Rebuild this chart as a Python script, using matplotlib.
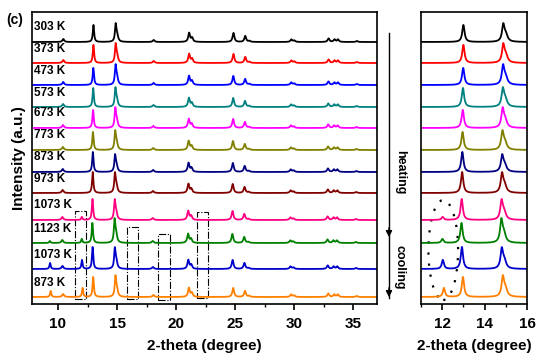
import numpy as np
import matplotlib
matplotlib.use("Agg")
import matplotlib.pyplot as plt
from matplotlib.patches import Rectangle, Ellipse

plt.rcParams['font.family'] = ['Liberation Sans', 'DejaVu Sans']
plt.rcParams['font.weight'] = 'bold'

# temperatures, top to bottom (heating, then cooling)
temps = ['303 K', '373 K', '473 K', '573 K', '673 K', '773 K', '873 K', '973 K',
         '1073 K', '1123 K', '1073 K', '873 K']
colors = ['#000000', '#ff0000', '#0000ff', '#008080', '#ff00ff', '#808000',
          '#000080', '#800000', '#ff0080', '#008000', '#0000cc', '#ff8000']
offsets = [262, 241, 219, 197, 176, 154, 132, 111, 84, 61, 35, 7]

# peak heights (a.u.)
h_13 = [17, 18, 17, 19, 18, 18, 20, 21, 21, 20, 22, 20]
h_149 = [19, 20, 21, 20, 21, 20, 18, 21, 21, 25, 22, 22]
h_121 = [0, 0, 0, 0, 0, 0, 0, 0, 3, 4, 9, 9]
h_94 = [0, 0, 0, 0, 0, 0, 0, 0, 0, 2, 6, 6]
shift = [0, 0, -0.01, -0.02, -0.03, -0.04, -0.05, -0.06, -0.08, -0.09, -0.07, -0.02]

# weaker reflections common to all patterns
minor_pos = [10.45, 18.1, 21.1, 21.35, 24.85, 25.85, 26.2, 29.75, 30.0, 32.9, 33.4, 33.7, 35.3]
minor_h = [3, 2, 9, 4, 9, 6, 1, 2.5, 1.5, 3.5, 2.5, 2.5, 1]


def lor(x, c, h, w=0.06):
    return h * w**2 / ((x - c)**2 + w**2)


def pattern(x, i):
    s = shift[i]
    y = lor(x, 13.0 + s, h_13[i], 0.065)
    y += lor(x, 14.88 + s, 0.85 * h_149[i], 0.07) + lor(x, 15.0 + s, 0.35 * h_149[i], 0.1)
    y += lor(x, 12.1 + s, h_121[i], 0.06) + lor(x, 9.4 + s, h_94[i], 0.06)
    for p, h in zip(minor_pos, minor_h):
        y += lor(x, p + s, h, 0.09)
    return y


fig = plt.figure(figsize=(5.5, 3.63), dpi=100)
ax1 = fig.add_axes([32/550, 1-304/363, 345/550, 292/363])
ax2 = fig.add_axes([421/550, 1-304/363, 106/550, 292/363])

x1 = np.linspace(7.8, 37, 4000)
x2 = np.linspace(11, 16, 1500)
for i in range(len(temps)):
    ax1.plot(x1, pattern(x1, i) + offsets[i], color=colors[i], lw=1.3)
    ax2.plot(x2, pattern(x2, i) + offsets[i], color=colors[i], lw=1.3)
    ax1.text(8.0, offsets[i] + 14.5, temps[i], fontsize=8.5, fontweight='bold',
             ha='left', va='center')

# dash-dot boxes
for (xa, xb, ya, yb) in [(11.4, 12.35, 5, 93), (15.85, 16.8, 5, 77),
                         (18.5, 19.5, 4, 70), (21.8, 22.7, 6, 92)]:
    ax1.add_patch(Rectangle((xa, ya), xb - xa, yb - ya, fill=False,
                            ls='-.', lw=0.8, color='k'))
ax2.add_patch(Ellipse((12.05, 54), 1.4, 100, fill=False, color='k',
                      ls=(0, (1, 4)), lw=1.6))

for ax in (ax1, ax2):
    ax.set_ylim(0, 292)
    ax.set_yticks([])
    for sp in ax.spines.values():
        sp.set_linewidth(1.2)
    ax.tick_params(axis='x', which='major', length=4, width=1.2, pad=5, labelsize=11)
    ax.tick_params(axis='x', which='minor', length=2.5, width=1.0)
    ax.set_xlabel('2-theta (degree)', fontsize=11, fontweight='bold', labelpad=6)

ax1.set_xlim(7.8, 37)
ax1.set_xticks([10, 15, 20, 25, 30, 35])
ax1.set_xticks(np.arange(10, 37, 2.5), minor=True)
ax1.set_ylabel('Intensity (a.u.)', fontsize=11, fontweight='bold', labelpad=4)

ax2.set_xlim(11, 16)
ax2.set_xticks([12, 14, 16])
ax2.set_xticks([11, 13, 15], minor=True)

# heating / cooling arrow
xa = 389/550
fig.add_artist(plt.Line2D([xa, xa], [1-33/363, 1-298/363], color='k', lw=1))
ax1.annotate('', xy=(xa, 1-240/363), xytext=(xa, 1-225/363), xycoords='figure fraction',
             arrowprops=dict(arrowstyle='-|>', color='k', lw=1, mutation_scale=9))
ax1.annotate('', xy=(xa, 1-300/363), xytext=(xa, 1-285/363), xycoords='figure fraction',
             arrowprops=dict(arrowstyle='-|>', color='k', lw=1, mutation_scale=9))
fig.text(400/550, 1-172/363, 'heating', rotation=270, fontsize=9, fontweight='bold',
         ha='center', va='center')
fig.text(400/550, 1-267/363, 'cooling', rotation=270, fontsize=9, fontweight='bold',
         ha='center', va='center')

fig.text(6/550, 1-20/363, '(c)', fontsize=10, fontweight='bold', ha='left', va='center')

fig.savefig('out.png', dpi=100)
